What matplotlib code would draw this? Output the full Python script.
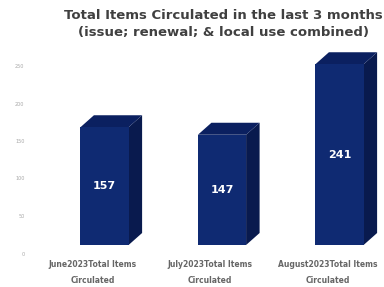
import matplotlib
matplotlib.use("Agg")
import matplotlib.pyplot as plt
import matplotlib.transforms as mtransforms
from matplotlib.patches import Polygon, Rectangle

# --- data ---
categories = ["June2023Total Items\nCirculated", "July2023Total Items\nCirculated",
              "August2023Total Items\nCirculated"]
values = [157, 147, 241]
y_ticks = [0, 50, 100, 150, 200, 250]

title = "Total Items Circulated in the last 3 months\n(issue; renewal; & local use combined)"

# --- style ---
front_col = "#0f2a72"
side_col = "#091a4e"
top_col = "#0b2060"
bar_w = 0.41
depth_x = 0.115
depth_y = 16

W, H = 384, 287
fig = plt.figure(figsize=(W / 100, H / 100), dpi=100)
ax = fig.add_axes([30 / W, 42 / H, 350 / W, 202.5 / H])

xmin = -(104.5 - 30) / 117.5
ax.set_xlim(xmin, xmin + 350 / 117.5)
ax.set_ylim(0, 270)

# 3D-looking bars: side face, top face, then front face
for i, v in enumerate(values):
    x0, x1 = i - bar_w / 2, i + bar_w / 2
    ax.add_patch(Polygon([(x1, 0), (x1 + depth_x, depth_y), (x1 + depth_x, v + depth_y), (x1, v)],
                         closed=True, facecolor=side_col, edgecolor="none"))
    ax.add_patch(Polygon([(x0, v), (x0 + depth_x, v + depth_y), (x1 + depth_x, v + depth_y), (x1, v)],
                         closed=True, facecolor=top_col, edgecolor="none"))
    ax.add_patch(Rectangle((x0, 0), bar_w, v, facecolor=front_col, edgecolor="none"))
    ax.text(i, v / 2, str(v), color="white", ha="center", va="center",
            fontsize=8, fontweight="bold", family="DejaVu Sans")

ax.set_yticks(y_ticks)
ax.set_yticklabels([str(t) for t in y_ticks])
ax.set_xticks(range(len(categories)))
ax.set_xticklabels(categories, linespacing=2.0)
ax.tick_params(axis="y", length=0, labelsize=3.5, labelcolor="#a8a8a8", pad=4)
ax.tick_params(axis="x", length=0, labelsize=5.5, labelcolor="#666666", pad=11)
for lab in ax.get_xticklabels():
    lab.set_fontweight("bold")
    lab.set_transform(lab.get_transform() + mtransforms.ScaledTranslation(-12 / 100, 0, fig.dpi_scale_trans))
for lab in ax.get_yticklabels():
    lab.set_transform(lab.get_transform() + mtransforms.ScaledTranslation(0, -8.5 / 100, fig.dpi_scale_trans))
for s in ax.spines.values():
    s.set_visible(False)

fig.text(223 / W, 1 - 24 / H, title, ha="center", va="center", fontsize=9.5,
         fontweight="bold", color="#404040", linespacing=1.35, family="DejaVu Sans")

fig.savefig("out.png", dpi=100)
